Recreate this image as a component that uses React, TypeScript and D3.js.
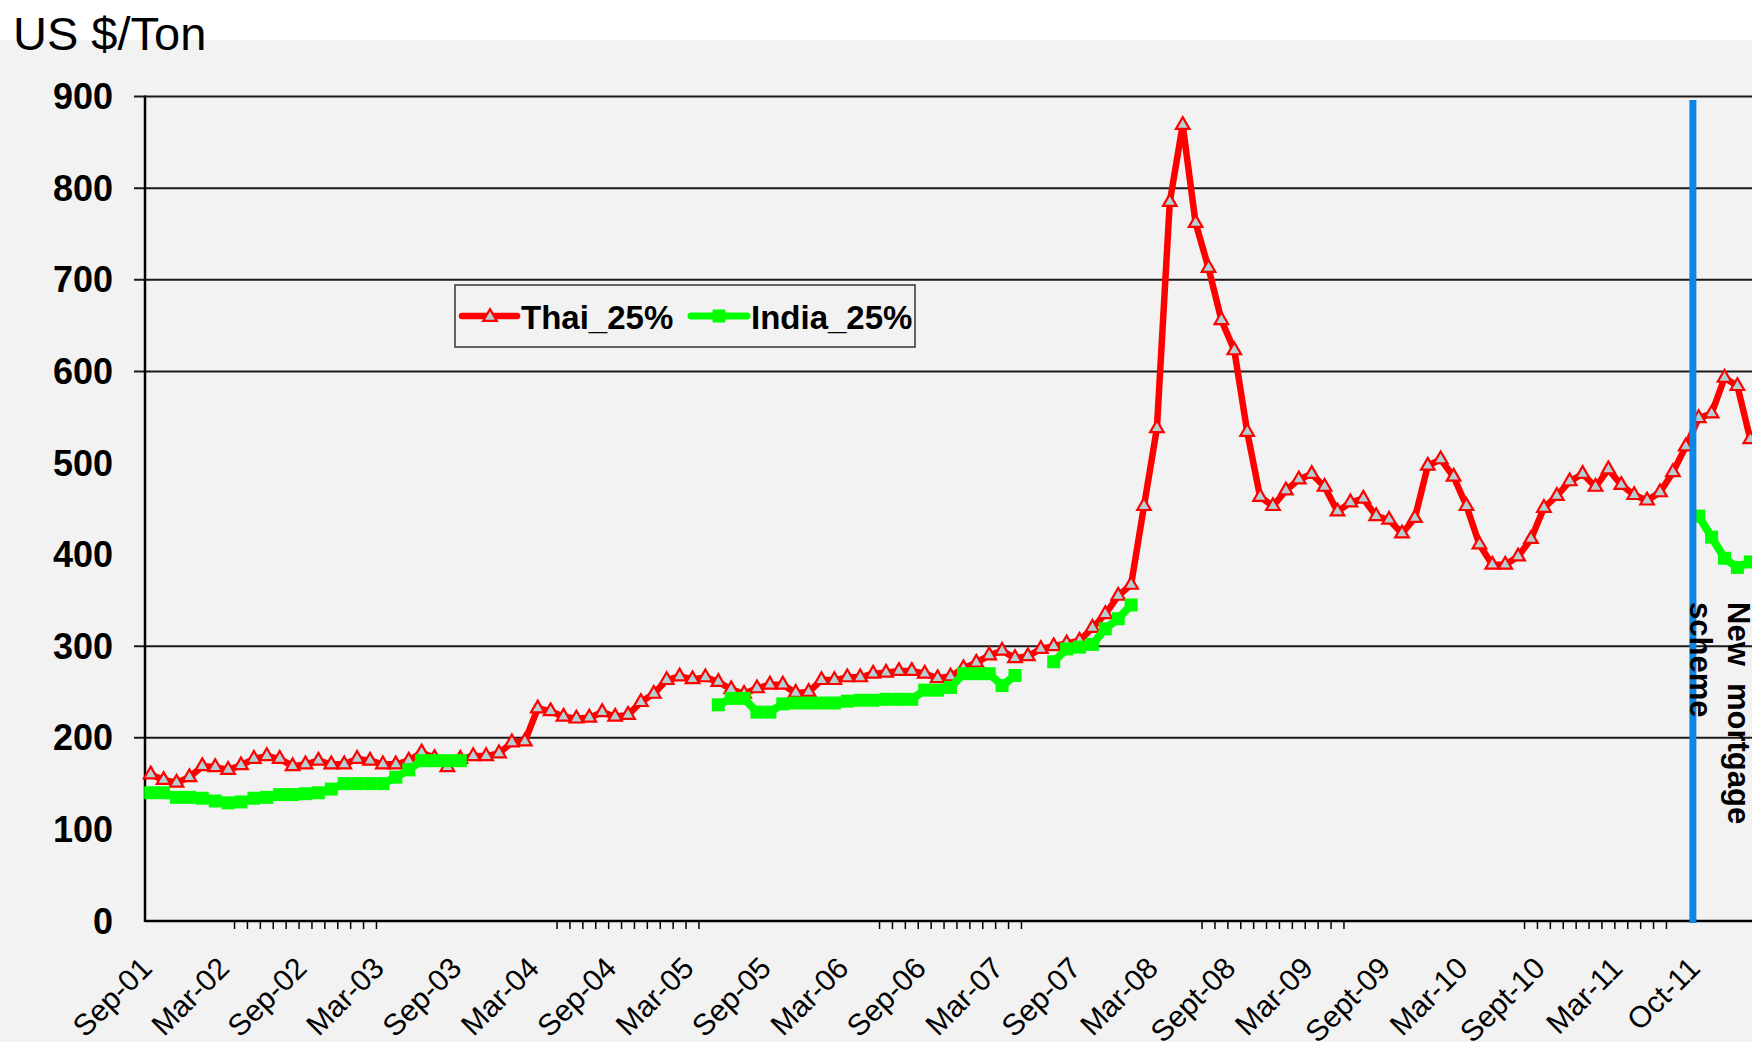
import React from 'react';
import * as d3 from 'd3';

// Monthly export prices, US $/ton, index 0 = Sep-01
const thaiPrices: number[] = [
  160, 154, 151, 157, 169, 168, 165, 170, 177, 180, 177, 169, 171, 175, 171, 171, 177, 175, 171, 171,
  175, 184, 178, 168, 177, 180, 180, 183, 195, 196, 232, 229, 223, 221, 222, 228, 223, 225, 239, 248,
  263, 267, 264, 266, 261, 253, 248, 254, 258, 258, 249, 250, 263, 263, 266, 266, 270, 271, 273, 273,
  270, 265, 267, 276, 282, 290, 295, 287, 289, 297, 300, 303, 306, 320, 335, 355, 367, 453, 538, 785,
  869, 762, 713, 656, 623, 534, 463, 453, 470, 482, 488, 474, 447, 457, 461, 442, 438, 423, 440, 497,
  504, 485, 453, 411, 389, 389, 398, 417, 451, 464, 480, 488, 474, 493, 476, 465, 459, 468, 490, 518,
  549, 554, 593, 584, 526,
];

const N = null;
const indiaPrices: (number | null)[] = [
  140, 140, 135, 135, 134, 131, 129, 130, 134, 135, 138, 138, 139, 140, 144, 150, 150, 150, 150, 157,
  165, 175, 175, 175, 175, N, N, N, N, N, N, N, N, N, N, N, N, N, N, N,
  N, N, N, N, 236, 243, 243, 228, 228, 237, 238, 238, 238, 238, 240, 241, 241, 242, 242, 242,
  252, 252, 255, 270, 270, 270, 257, 268, N, N, 283, 297, 299, 302, 319, 330, 345, N, N, N,
  N, N, N, N, N, N, N, N, N, N, N, N, N, N, N, N, N, N, N, N,
  N, N, N, N, N, N, N, N, N, N, N, N, N, N, N, N, N, N, N, N,
  442, 419, 396, 386, 392,
];

const xLabels: string[] = [
  'Sep-01', 'Mar-02', 'Sep-02', 'Mar-03', 'Sep-03', 'Mar-04', 'Sep-04', 'Mar-05', 'Sep-05', 'Mar-06',
  'Sep-06', 'Mar-07', 'Sep-07', 'Mar-08', 'Sept-08', 'Mar-09', 'Sept-09', 'Mar-10', 'Sept-10', 'Mar-11',
  'Oct-11',
];
const labelStep = 6;
const yTickValues: number[] = [0, 100, 200, 300, 400, 500, 600, 700, 800, 900];
const gridValues: number[] = [900, 800, 700, 600, 300, 200];
const minorTickGroupStarts: number[] = [6, 31, 56, 81, 106];
const minorTicksPerGroup = 12;
const schemeIndex = 119.55;
const seriesNames = ['Thai_25%', 'India_25%'];
const annotationLines = ['New  mortgage', 'scheme'];

const FONT = "'Liberation Sans', Arial, Helvetica, sans-serif";
const RED = '#ff0000';
const GREEN = '#00ff00';
const BLUE = '#0e86e4';
const TRI_FILL = '#b6cfd5';

export default function App() {
  const W = 1752;
  const H = 1042;
  const x = d3.scaleLinear().domain([0, 120]).range([150.7, 1698.7]);
  const y = d3.scaleLinear().domain([0, 900]).range([921, 96.6]);
  const axisX = 145;
  const plotRight = W;

  const line = d3
    .line<number | null>()
    .defined((d) => d != null)
    .x((_, i) => x(i))
    .y((d) => y(d as number));

  const tri = d3.symbol().type(d3.symbolTriangle).size(80)() as string;
  const sq = d3.symbol().type(d3.symbolSquare).size(169)() as string;

  const minorTicks: number[] = [];
  minorTickGroupStarts.forEach((s) => {
    for (let k = 0; k < minorTicksPerGroup; k++) minorTicks.push(s + k + 0.5);
  });

  return (
    <div style={{ position: 'absolute', left: 0, top: 0 }}>
      <svg width={W} height={H} viewBox={`0 0 ${W} ${H}`} style={{ display: 'block' }}>
        <rect x={0} y={0} width={W} height={H} fill="#ffffff" />
        <rect x={0} y={40} width={W} height={H - 40} fill="#f2f2f2" />

        {/* gridlines */}
        {gridValues.map((v) => (
          <line key={'g' + v} x1={134} x2={plotRight} y1={y(v)} y2={y(v)} stroke="#1a1a1a" strokeWidth={2} />
        ))}

        {/* axes */}
        <line x1={axisX} x2={axisX} y1={y(900) - 1} y2={y(0) + 1} stroke="#000" strokeWidth={2.5} />
        <line x1={axisX} x2={plotRight} y1={y(0)} y2={y(0)} stroke="#000" strokeWidth={2.5} />

        {/* minor ticks */}
        {minorTicks.map((t, i) => (
          <line key={'mt' + i} x1={x(t)} x2={x(t)} y1={y(0)} y2={y(0) + 8} stroke="#000" strokeWidth={1.5} />
        ))}

        {/* y labels */}
        {yTickValues.map((v) => (
          <text
            key={'yl' + v}
            x={113}
            y={y(v) + 12.5}
            textAnchor="end"
            fontFamily={FONT}
            fontWeight="bold"
            fontSize={36}
            fill="#000"
          >
            {v}
          </text>
        ))}

        {/* x labels */}
        {xLabels.map((lab, k) => {
          const px = x(k * labelStep) + 3;
          const py = 970;
          return (
            <text
              key={'xl' + k}
              transform={`translate(${px},${py}) rotate(-45)`}
              textAnchor="end"
              fontFamily={FONT}
              fontSize={30}
              fill="#000"
            >
              {lab}
            </text>
          );
        })}

        {/* Thai series */}
        <path d={line(thaiPrices) || ''} fill="none" stroke={RED} strokeWidth={6.5} strokeLinejoin="round" />
        {thaiPrices.map((v, i) => (
          <path
            key={'t' + i}
            d={tri}
            transform={`translate(${x(i)},${y(v)})`}
            fill={TRI_FILL}
            stroke={RED}
            strokeWidth={2.2}
          />
        ))}

        {/* India series */}
        <path d={line(indiaPrices) || ''} fill="none" stroke={GREEN} strokeWidth={8} strokeLinejoin="round" />
        {indiaPrices.map((v, i) =>
          v == null ? null : (
            <path key={'n' + i} d={sq} transform={`translate(${x(i)},${y(v)})`} fill={GREEN} />
          )
        )}

        {/* scheme marker */}
        <line
          x1={x(schemeIndex)}
          x2={x(schemeIndex)}
          y1={100}
          y2={y(0) + 2}
          stroke={BLUE}
          strokeWidth={7}
        />
        {annotationLines.map((t, k) => (
          <text
            key={'an' + k}
            transform={`translate(${1728 - k * 38},602) rotate(90)`}
            fontFamily={FONT}
            fontWeight="bold"
            fontSize={31}
            fill="#000"
            style={{ whiteSpace: 'pre' }}
          >
            {t}
          </text>
        ))}

        {/* legend */}
        <rect x={455} y={285} width={460} height={62} fill="none" stroke="#333" strokeWidth={1.5} />
        <line x1={462} x2={517} y1={316} y2={316} stroke={RED} strokeWidth={6.5} strokeLinecap="round" />
        <path d={tri} transform="translate(490,317)" fill={TRI_FILL} stroke={RED} strokeWidth={2.2} />
        <text x={521} y={329} fontFamily={FONT} fontWeight="bold" fontSize={33} fill="#000">
          {seriesNames[0]}
        </text>
        <line x1={691} x2={747} y1={316} y2={316} stroke={GREEN} strokeWidth={7} strokeLinecap="round" />
        <path d={sq} transform="translate(719,316)" fill={GREEN} />
        <text x={751} y={329} fontFamily={FONT} fontWeight="bold" fontSize={33} fill="#000">
          {seriesNames[1]}
        </text>

        {/* title */}
        <text x={13} y={50} fontFamily={FONT} fontSize={47} fill="#000">
          US $/Ton
        </text>
      </svg>
    </div>
  );
}
